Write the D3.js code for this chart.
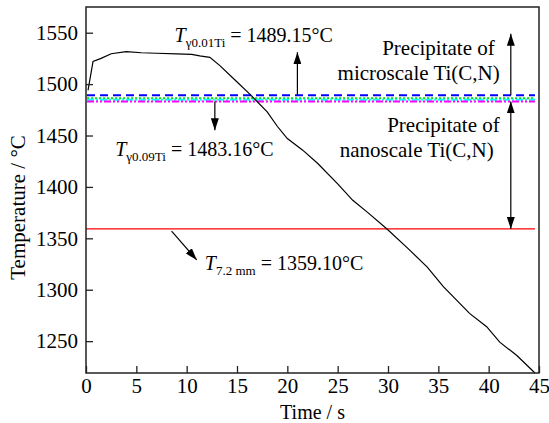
<!DOCTYPE html>
<html>
<head>
<meta charset="utf-8">
<script src="https://cdn.jsdelivr.net/npm/d3@7"></script>
<style>
  body { margin: 0; background: #fff; }
</style>
</head>
<body>
<svg id="chart" width="549" height="423"></svg>
<script>
// cooling curve
const TIME = [0.2, 0.7, 1.5, 2.5, 4.0, 5.5, 7.0, 9.0, 10.5, 11.3, 12.3, 13.3, 14.8, 16.3, 18.0, 19.0, 20.0, 21.5, 23.0, 25.0, 26.5, 28.0, 29.9, 32.0, 33.9, 35.5, 38.1, 39.8, 41.1, 42.8, 44.6];
const TEMP = [1494, 1522, 1525, 1529.5, 1531.5, 1530.5, 1530, 1529.5, 1529, 1527.5, 1526, 1518, 1504, 1490, 1473, 1459, 1447, 1436, 1423, 1403, 1387, 1375, 1359, 1340, 1322, 1303, 1277, 1264, 1249, 1236, 1219];

// austenite precipitation temperatures for the four Ti levels
const LEVELS = [1489.15, 1486.2, 1484.8, 1483.16];
const LEVEL_COLORS = ["#0000ff", "#00e000", "#00ffff", "#ff00ff"];
const LEVEL_DASH = ["8,5", "2,2", "7,2,2,2", "7,2,2,2,2,2"];
const SURFACE_TEMP = 1359.10;

const X_TICKS = [0, 5, 10, 15, 20, 25, 30, 35, 40, 45];
const Y_TICKS = [1250, 1300, 1350, 1400, 1450, 1500, 1550];

const WIDTH = 549, HEIGHT = 423;
const margin = { top: 7, right: 10, bottom: 50, left: 86 };
const FONT = "Liberation Serif, Times New Roman, serif";

const svg = d3.select("#chart").style("font-family", FONT);

const x = d3.scaleLinear().domain([0, 45]).range([margin.left, WIDTH - margin.right]);
const y = d3.scaleLinear().domain([1219, 1575]).range([HEIGHT - margin.bottom, margin.top]);

const defs = svg.append("defs");
defs.append("marker")
  .attr("id", "head")
  .attr("viewBox", "0 0 12 8")
  .attr("refX", 12).attr("refY", 4)
  .attr("markerWidth", 12).attr("markerHeight", 8)
  .attr("markerUnits", "userSpaceOnUse")
  .attr("orient", "auto-start-reverse")
  .append("path")
  .attr("d", "M0,0 L12,4 L0,8 Z")
  .attr("fill", "#000");

// threshold lines
LEVELS.forEach((v, i) => {
  svg.append("line")
    .attr("x1", x(0.1)).attr("x2", x(44.6))
    .attr("y1", y(v)).attr("y2", y(v))
    .attr("stroke", LEVEL_COLORS[i])
    .attr("stroke-width", 2)
    .attr("stroke-dasharray", LEVEL_DASH[i]);
});

svg.append("line")
  .attr("x1", x(0)).attr("x2", x(44.6))
  .attr("y1", y(SURFACE_TEMP)).attr("y2", y(SURFACE_TEMP))
  .attr("stroke", "#ff0000")
  .attr("stroke-width", 1.2);

// curve
const pts = TIME.map((t, i) => [t, TEMP[i]]);
svg.append("path")
  .datum(pts)
  .attr("fill", "none")
  .attr("stroke", "#000")
  .attr("stroke-width", 1.2)
  .attr("d", d3.line().x(d => x(d[0])).y(d => y(d[1])));

// axes (inward ticks)
const xAxis = svg.append("g")
  .attr("transform", `translate(0,${HEIGHT - margin.bottom})`)
  .call(d3.axisBottom(x).tickValues(X_TICKS).tickFormat(d3.format("d"))
    .tickSizeInner(-7).tickSizeOuter(0).tickPadding(5));
const yAxis = svg.append("g")
  .attr("transform", `translate(${margin.left},0)`)
  .call(d3.axisLeft(y).tickValues(Y_TICKS).tickFormat(d3.format("d"))
    .tickSizeInner(-7).tickSizeOuter(0).tickPadding(8));

[xAxis, yAxis].forEach(g => {
  g.attr("font-family", null).attr("font-size", 21);
  g.select(".domain").remove();
  g.selectAll(".tick line").attr("stroke", "#222").attr("stroke-width", 1.3);
  g.selectAll(".tick text").attr("fill", "#000");
});

svg.append("rect")
  .attr("x", margin.left).attr("y", margin.top)
  .attr("width", WIDTH - margin.left - margin.right)
  .attr("height", HEIGHT - margin.top - margin.bottom)
  .attr("fill", "none")
  .attr("stroke", "#222")
  .attr("stroke-width", 1.5);

// axis titles
svg.append("text")
  .attr("x", x(22.5)).attr("y", 419)
  .attr("text-anchor", "middle")
  .attr("font-size", 20)
  .text("Time / s");

svg.append("text")
  .attr("transform", `translate(25,${y(1380)}) rotate(-90)`)
  .attr("text-anchor", "middle")
  .attr("font-size", 21)
  .text("Temperature / °C");

// annotations
function tLabel(px, py, sub, rest) {
  const t = svg.append("text").attr("x", px).attr("y", py).attr("font-size", 20);
  t.append("tspan").attr("font-style", "italic").text("T");
  t.append("tspan").attr("font-size", 13).attr("dy", 5).text(sub);
  t.append("tspan").attr("dy", -5).text(" = " + rest);
}

tLabel(x(8.8), 42, "γ0.01Ti", "1489.15°C");
tLabel(x(2.9), 156, "γ0.09Ti", "1483.16°C");
tLabel(x(11.8), 270, "7.2 mm", "1359.10°C");

function arrow(t1, v1, t2, v2, both) {
  const l = svg.append("line")
    .attr("x1", x(t1)).attr("y1", y(v1))
    .attr("x2", x(t2)).attr("y2", y(v2))
    .attr("stroke", "#000").attr("stroke-width", 1.2)
    .attr("marker-end", "url(#head)");
  if (both) l.attr("marker-start", "url(#head)");
}

arrow(21.0, 1489.15, 21.0, 1531);
arrow(12.8, 1483.16, 12.8, 1455);
arrow(8.5, 1357, 11.0, 1329);
arrow(42.2, 1489.15, 42.2, 1549);
arrow(42.2, 1483.16, 42.2, SURFACE_TEMP, true);

const notes = [
  ["Precipitate of", 40.6, 55],
  ["microscale Ti(C,N)", 41.1, 80],
  ["Precipitate of", 41.1, 132],
  ["nanoscale Ti(C,N)", 40.5, 157]
];
notes.forEach(([s, t, py]) => {
  svg.append("text")
    .attr("x", x(t)).attr("y", py)
    .attr("text-anchor", "end")
    .attr("font-size", 21)
    .text(s);
});
</script>
</body>
</html>
